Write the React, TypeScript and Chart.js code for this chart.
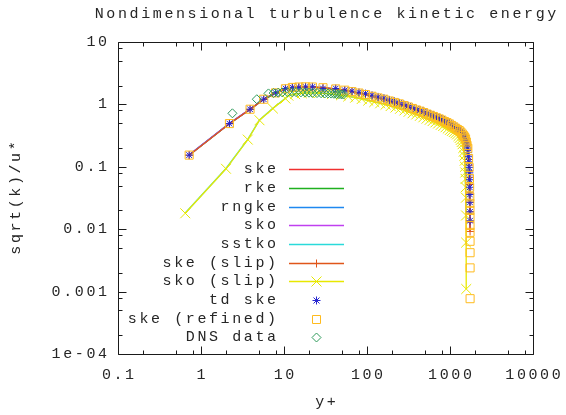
import React, { useEffect, useRef } from 'react';
import { Chart, registerables } from 'chart.js';

Chart.register(...registerables);

const W = 566;
const H = 415;
const FONT_FAMILY = '"Liberation Mono", "DejaVu Sans Mono", monospace';
const FONT = '15px ' + FONT_FAMILY;
const LETTER_SPACING = 2.6;
const TEXT_COLOR = '#262626';

const titleText = 'Nondimensional turbulence kinetic energy';
const xAxisTitle = 'y+';
const yAxisTitle = 'sqrt(k)/u*';

const xTickValues = [0.1, 1, 10, 100, 1000, 10000];
const xTickLabels = ['0.1', '1', '10', '100', '1000', '10000'];
const yTickValues = [10, 1, 0.1, 0.01, 0.001, 0.0001];
const yTickLabels = ['10', '1', '0.1', '0.01', '0.001', '1e-04'];
const minorMultipliers = [2, 5, 8];

// wall-unit mesh of the no-slip runs
const meshYPlus = [0.72, 2.2, 3.9, 5.7, 7.9, 10.4, 12.6, 15.1, 18.2, 22, 29.5, 42, 54, 66, 80, 96, 115, 136, 160, 186, 214, 245, 278, 314, 352, 393, 436, 482, 530, 580, 632, 686, 742, 800, 860, 920, 982, 1045, 1108, 1170, 1232, 1292, 1350, 1405, 1455, 1500, 1540, 1575, 1605, 1630, 1652, 1670, 1686, 1700, 1712, 1722, 1730, 1736, 1740, 1743, 1745];

const skeValues = [0.154, 0.493, 0.837, 1.21, 1.53, 1.78, 1.87, 1.90, 1.91, 1.90, 1.85, 1.77, 1.69, 1.60, 1.52, 1.44, 1.35, 1.27, 1.21, 1.135, 1.075, 1.02, 0.96, 0.91, 0.86, 0.815, 0.78, 0.74, 0.70, 0.67, 0.64, 0.61, 0.585, 0.56, 0.53, 0.51, 0.487, 0.46, 0.437, 0.415, 0.395, 0.38, 0.36, 0.336, 0.316, 0.30, 0.28, 0.25, 0.22, 0.19, 0.16, 0.135, 0.11, 0.09, 0.072, 0.056, 0.042, 0.031, 0.022, 0.015, 0.0095];
const rkeValues = [0.153, 0.49, 0.83, 1.20, 1.51, 1.75, 1.84, 1.88, 1.89, 1.88, 1.83, 1.76, 1.68, 1.60, 1.52, 1.44, 1.36, 1.28, 1.21, 1.14, 1.08, 1.02, 0.965, 0.915, 0.865, 0.82, 0.785, 0.745, 0.705, 0.675, 0.645, 0.615, 0.59, 0.565, 0.535, 0.515, 0.49, 0.465, 0.44, 0.42, 0.40, 0.385, 0.365, 0.34, 0.32, 0.302, 0.282, 0.252, 0.222, 0.192, 0.162, 0.137, 0.112, 0.092, 0.074, 0.058, 0.044, 0.032, 0.023, 0.016, 0.0098];
const rngkeValues = [0.156, 0.497, 0.845, 1.22, 1.54, 1.79, 1.88, 1.91, 1.92, 1.91, 1.86, 1.78, 1.70, 1.61, 1.53, 1.45, 1.36, 1.28, 1.22, 1.145, 1.085, 1.03, 0.97, 0.92, 0.87, 0.825, 0.79, 0.75, 0.71, 0.68, 0.65, 0.62, 0.595, 0.57, 0.54, 0.52, 0.495, 0.47, 0.445, 0.422, 0.402, 0.387, 0.366, 0.342, 0.322, 0.305, 0.284, 0.254, 0.224, 0.194, 0.164, 0.138, 0.113, 0.093, 0.075, 0.058, 0.044, 0.032, 0.023, 0.0155, 0.0098];
const skoValues = [0.155, 0.495, 0.84, 1.21, 1.52, 1.76, 1.85, 1.89, 1.90, 1.89, 1.84, 1.76, 1.68, 1.60, 1.52, 1.44, 1.35, 1.27, 1.21, 1.135, 1.075, 1.02, 0.96, 0.91, 0.86, 0.815, 0.78, 0.74, 0.70, 0.67, 0.64, 0.61, 0.585, 0.56, 0.53, 0.51, 0.487, 0.46, 0.437, 0.415, 0.395, 0.38, 0.36, 0.336, 0.316, 0.30, 0.28, 0.25, 0.22, 0.19, 0.16, 0.135, 0.11, 0.09, 0.072, 0.056, 0.042, 0.031, 0.022, 0.015, 0.0095];
const skeSlipValues = [0.153, 0.49, 0.833, 1.205, 1.525, 1.775, 1.865, 1.895, 1.905, 1.895, 1.845, 1.765, 1.685, 1.595, 1.515, 1.435, 1.345, 1.265, 1.205, 1.13, 1.07, 1.015, 0.955, 0.905, 0.855, 0.81, 0.775, 0.735, 0.695, 0.665, 0.635, 0.605, 0.58, 0.555, 0.525, 0.505, 0.482, 0.455, 0.432, 0.41, 0.39, 0.375, 0.355, 0.332, 0.312, 0.296, 0.276, 0.246, 0.216, 0.186, 0.156, 0.131, 0.106, 0.086, 0.068, 0.052, 0.038, 0.027, 0.019, 0.013, 0.0092];
const tdSkeValues = [0.154, 0.493, 0.837, 1.21, 1.53, 1.80, 1.87, 1.87, 1.91, 1.91, 1.80, 1.80, 1.69, 1.63, 1.56, 1.49, 1.40, 1.32, 1.26, 1.18, 1.12, 1.06, 1.0, 0.95, 0.895, 0.85, 0.81, 0.77, 0.73, 0.70, 0.665, 0.635, 0.61, 0.585, 0.555, 0.53, 0.505, 0.48, 0.455, 0.432, 0.412, 0.395, 0.375, 0.35, 0.33, 0.312, 0.29, 0.26, 0.23, 0.2, 0.17, 0.145, 0.12, 0.098, 0.08, 0.062, 0.047, 0.036, 0.027, 0.019, 0.0137];

// refined mesh (finer resolution near the far wall)
const refinedYPlus = [0.72, 2.2, 3.9, 5.7, 7.9, 10.4, 12.6, 15.1, 18.2, 22, 29.5, 42, 54, 66, 80, 96, 115, 136, 160, 186, 214, 245, 278, 314, 352, 393, 436, 482, 530, 580, 632, 686, 742, 800, 860, 920, 982, 1045, 1108, 1170, 1232, 1292, 1350, 1405, 1455, 1500, 1540, 1575, 1605, 1640, 1675, 1700, 1715, 1725, 1732, 1736, 1739, 1741, 1742.5, 1743.5, 1744.3, 1745, 1745.5, 1746];
const refinedValues = [0.154, 0.493, 0.837, 1.21, 1.53, 1.78, 1.87, 1.90, 1.91, 1.90, 1.85, 1.77, 1.69, 1.60, 1.52, 1.44, 1.35, 1.27, 1.21, 1.135, 1.075, 1.02, 0.96, 0.91, 0.86, 0.815, 0.78, 0.74, 0.70, 0.67, 0.64, 0.61, 0.585, 0.56, 0.53, 0.51, 0.487, 0.46, 0.437, 0.415, 0.395, 0.38, 0.36, 0.336, 0.316, 0.30, 0.28, 0.25, 0.22, 0.198, 0.136, 0.098, 0.065, 0.047, 0.033, 0.026, 0.020, 0.0155, 0.0115, 0.0089, 0.0064, 0.0042, 0.0024, 0.00077];

// slip runs (different friction velocity -> shifted y+)
const slipYPlus = [0.646, 2.0, 3.66, 5.07, 7.34, 10.4, 11.3, 13.6, 16.4, 19.8, 26.5, 37.8, 48.6, 59.4, 72, 86.4, 103.5, 122.4, 144, 167.4, 192.6, 220.5, 250, 282.6, 316.8, 353.7, 392.4, 433.8, 477, 522, 569, 617, 668, 720, 774, 828, 884, 940, 997, 1053, 1109, 1163, 1215, 1265, 1310, 1350, 1386, 1418, 1445, 1467, 1487, 1503, 1517, 1530, 1541, 1550, 1557, 1562, 1566, 1570];
const skoSlipValues = [0.018, 0.093, 0.273, 0.557, 0.86, 1.24, 1.38, 1.46, 1.51, 1.53, 1.52, 1.46, 1.40, 1.34, 1.28, 1.22, 1.15, 1.09, 1.04, 0.99, 0.94, 0.89, 0.85, 0.80, 0.76, 0.72, 0.69, 0.655, 0.62, 0.59, 0.565, 0.54, 0.515, 0.495, 0.47, 0.45, 0.43, 0.41, 0.39, 0.375, 0.36, 0.345, 0.33, 0.31, 0.29, 0.27, 0.25, 0.23, 0.2, 0.175, 0.15, 0.125, 0.10, 0.081, 0.064, 0.047, 0.032, 0.0166, 0.0061, 0.0011];
const sstkoValues = [0.0182, 0.094, 0.276, 0.562, 0.868, 1.25, 1.39, 1.47, 1.52, 1.54, 1.53, 1.47, 1.41, 1.35, 1.29, 1.23, 1.16, 1.10, 1.05, 1.0, 0.95, 0.90, 0.86, 0.81, 0.77, 0.73, 0.70, 0.665, 0.63, 0.60, 0.575, 0.55, 0.525, 0.505, 0.48, 0.46, 0.44, 0.42, 0.40, 0.385, 0.37, 0.355, 0.34, 0.32, 0.30, 0.28, 0.26, 0.24, 0.21, 0.185, 0.16, 0.135, 0.11, 0.09, 0.072, 0.055, 0.04, 0.028, 0.02, 0.015];

// DNS reference data
const dnsYPlus = [2.39, 4.7, 6.5, 7.5, 8.5, 9.5, 11, 12.5, 14, 16, 18, 20, 22, 25, 28, 31, 34, 37, 40, 43, 46, 49, 52];
const dnsValues = [0.72, 1.21, 1.5, 1.52, 1.54, 1.56, 1.57, 1.57, 1.57, 1.56, 1.55, 1.54, 1.53, 1.52, 1.51, 1.5, 1.5, 1.49, 1.48, 1.47, 1.46, 1.45, 1.44];

const pts = (xs: number[], ys: number[]) =>
  xs.map((x, i) => ({ x, y: ys[i] })).filter((p) => p.y !== undefined);

function setSpacing(ctx: any, px: number) {
  if ('letterSpacing' in ctx) ctx.letterSpacing = px + 'px';
}

function drawText(ctx: any, text: string, x: number, y: number, align: 'left' | 'right' | 'center') {
  setSpacing(ctx, LETTER_SPACING);
  ctx.textAlign = align;
  let dx = 0;
  if (align === 'right') dx = LETTER_SPACING;
  if (align === 'center') dx = LETTER_SPACING / 2;
  ctx.fillText(text, x + dx, y);
  setSpacing(ctx, 0);
}

function drawMarker(ctx: any, kind: string, x: number, y: number, color: string) {
  ctx.save();
  ctx.strokeStyle = color;
  ctx.lineWidth = 1;
  ctx.beginPath();
  if (kind === 'plus') {
    ctx.moveTo(x - 4, y); ctx.lineTo(x + 4, y);
    ctx.moveTo(x, y - 4); ctx.lineTo(x, y + 4);
  } else if (kind === 'cross') {
    ctx.moveTo(x - 5, y - 5); ctx.lineTo(x + 5, y + 5);
    ctx.moveTo(x - 5, y + 5); ctx.lineTo(x + 5, y - 5);
  } else if (kind === 'star') {
    ctx.moveTo(x - 4, y); ctx.lineTo(x + 4, y);
    ctx.moveTo(x, y - 4); ctx.lineTo(x, y + 4);
    ctx.moveTo(x - 3, y - 3); ctx.lineTo(x + 3, y + 3);
    ctx.moveTo(x - 3, y + 3); ctx.lineTo(x + 3, y - 3);
  } else if (kind === 'square') {
    ctx.rect(x - 4, y - 4, 8, 8);
  } else if (kind === 'diamond') {
    ctx.moveTo(x - 4.5, y); ctx.lineTo(x, y - 4.5); ctx.lineTo(x + 4.5, y); ctx.lineTo(x, y + 4.5);
    ctx.closePath();
  }
  ctx.stroke();
  ctx.restore();
}

const framePlugin = {
  id: 'gnuFrame',
  beforeDatasetsDraw(chart: any) {
    const { ctx, chartArea } = chart;
    const xs = chart.scales.x;
    const ys = chart.scales.y;
    const L = Math.round(chartArea.left) + 0.5;
    const R = Math.round(chartArea.right) + 0.5;
    const T = Math.round(chartArea.top) + 0.5;
    const B = Math.round(chartArea.bottom) + 0.5;
    ctx.save();
    ctx.strokeStyle = '#1a1a1a';
    ctx.lineWidth = 1;
    ctx.beginPath();
    ctx.rect(L, T, R - L, B - T);
    const MAJ = 8;
    const MIN = 4;
    xTickValues.forEach((v) => {
      const px = Math.round(xs.getPixelForValue(v)) + 0.5;
      ctx.moveTo(px, B); ctx.lineTo(px, B - MAJ);
      ctx.moveTo(px, T); ctx.lineTo(px, T + MAJ);
      minorMultipliers.forEach((m) => {
        const mv = v * m;
        if (mv < xs.max) {
          const mp = Math.round(xs.getPixelForValue(mv)) + 0.5;
          ctx.moveTo(mp, B); ctx.lineTo(mp, B - MIN);
          ctx.moveTo(mp, T); ctx.lineTo(mp, T + MIN);
        }
      });
    });
    yTickValues.forEach((v) => {
      const py = Math.round(ys.getPixelForValue(v)) + 0.5;
      ctx.moveTo(L, py); ctx.lineTo(L + MAJ, py);
      ctx.moveTo(R, py); ctx.lineTo(R - MAJ, py);
      minorMultipliers.forEach((m) => {
        const mv = v * m;
        if (mv < ys.max) {
          const mp = Math.round(ys.getPixelForValue(mv)) + 0.5;
          ctx.moveTo(L, mp); ctx.lineTo(L + MIN, mp);
          ctx.moveTo(R, mp); ctx.lineTo(R - MIN, mp);
        }
      });
    });
    ctx.stroke();
    ctx.restore();
  },
  afterDraw(chart: any) {
    const { ctx, chartArea } = chart;
    const xs = chart.scales.x;
    const ys = chart.scales.y;
    ctx.save();
    ctx.font = FONT;
    ctx.fillStyle = TEXT_COLOR;
    ctx.textBaseline = 'middle';
    // title
    drawText(ctx, titleText, (chartArea.left + chartArea.right) / 2, 14, 'center');
    // tick labels
    xTickValues.forEach((v, i) => {
      drawText(ctx, xTickLabels[i], xs.getPixelForValue(v), chartArea.bottom + 21, 'center');
    });
    yTickValues.forEach((v, i) => {
      drawText(ctx, yTickLabels[i], chartArea.left - 11, ys.getPixelForValue(v), 'right');
    });
    // axis titles
    drawText(ctx, xAxisTitle, (chartArea.left + chartArea.right) / 2, 402, 'center');
    ctx.save();
    ctx.translate(16, (chartArea.top + chartArea.bottom) / 2);
    ctx.rotate(-Math.PI / 2);
    drawText(ctx, yAxisTitle, 0, 0, 'center');
    ctx.restore();
    // legend
    const textRight = 276;
    const lineL = 289;
    const lineR = 344;
    const markX = 316.5;
    const y0 = 169.3;
    const step = 18.67;
    chart.data.datasets.forEach((ds: any, i: number) => {
      const y = y0 + i * step;
      ctx.fillStyle = TEXT_COLOR;
      drawText(ctx, ds.label, textRight, y, 'right');
      const yy = Math.round(y) + 0.5;
      if (ds.showLine !== false) {
        ctx.save();
        ctx.strokeStyle = ds.borderColor;
        ctx.lineWidth = 1.4;
        ctx.beginPath();
        ctx.moveTo(lineL, yy);
        ctx.lineTo(lineR, yy);
        ctx.stroke();
        ctx.restore();
      }
      if (ds.legendMarker) {
        drawMarker(ctx, ds.legendMarker, markX, yy, ds.pointBorderColor || ds.borderColor);
      }
    });
    ctx.restore();
  },
};

const COLORS = {
  ske: '#f03030',
  rke: '#1fb01f',
  rngke: '#1e88f0',
  sko: '#c040f0',
  sstko: '#2adada',
  skeSlip: '#e0561a',
  skoSlip: '#e8e800',
  tdSke: '#2626d0',
  refined: '#ffbb1e',
  dns: '#2e9a5a',
};

export default function App() {
  const canvasRef = useRef<HTMLCanvasElement | null>(null);

  useEffect(() => {
    if (!canvasRef.current) return;
    const lineDs = (label: string, xs: number[], ys: number[], color: string) => ({
      label,
      data: pts(xs, ys),
      borderColor: color,
      backgroundColor: color,
      borderWidth: 1.3,
      pointRadius: 0,
      showLine: true,
      tension: 0,
    });
    const datasets: any[] = [
      lineDs('ske', meshYPlus, skeValues, COLORS.ske),
      lineDs('rke', meshYPlus, rkeValues, COLORS.rke),
      lineDs('rngke', meshYPlus, rngkeValues, COLORS.rngke),
      lineDs('sko', meshYPlus, skoValues, COLORS.sko),
      lineDs('sstko', slipYPlus, sstkoValues, COLORS.sstko),
      {
        ...lineDs('ske (slip)', meshYPlus, skeSlipValues, COLORS.skeSlip),
        pointRadius: 4,
        pointStyle: 'cross',
        pointBorderColor: COLORS.skeSlip,
        pointBorderWidth: 1,
        legendMarker: 'plus',
      },
      {
        ...lineDs('sko (slip)', slipYPlus, skoSlipValues, COLORS.skoSlip),
        pointRadius: 7,
        pointStyle: 'crossRot',
        pointBorderColor: COLORS.skoSlip,
        pointBorderWidth: 1,
        legendMarker: 'cross',
      },
      {
        label: 'td ske',
        data: pts(meshYPlus, tdSkeValues),
        showLine: false,
        borderColor: COLORS.tdSke,
        pointBorderColor: COLORS.tdSke,
        pointBackgroundColor: 'transparent',
        pointStyle: 'star',
        pointRadius: 4,
        pointBorderWidth: 1,
        legendMarker: 'star',
      },
      {
        label: 'ske (refined)',
        data: pts(refinedYPlus, refinedValues),
        showLine: false,
        borderColor: COLORS.refined,
        pointBorderColor: COLORS.refined,
        pointBackgroundColor: 'transparent',
        pointStyle: 'rect',
        pointRadius: 5.7,
        pointBorderWidth: 1,
        legendMarker: 'square',
      },
      {
        label: 'DNS data',
        data: pts(dnsYPlus, dnsValues),
        showLine: false,
        borderColor: COLORS.dns,
        pointBorderColor: COLORS.dns,
        pointBackgroundColor: 'transparent',
        pointStyle: 'rectRot',
        pointRadius: 4.5,
        pointBorderWidth: 1,
        legendMarker: 'diamond',
      },
    ];
    const n = datasets.length;
    datasets.forEach((d, i) => {
      d.order = n - i;
    });

    const chart = new Chart(canvasRef.current, {
      type: 'line',
      data: { datasets },
      options: {
        responsive: false,
        animation: false,
        devicePixelRatio: 1,
        layout: { padding: { left: 118, right: 33, top: 42, bottom: 61 } },
        plugins: {
          legend: { display: false },
          title: { display: false },
          tooltip: { enabled: false },
        },
        scales: {
          x: { type: 'logarithmic', min: 0.1, max: 10000, display: false },
          y: { type: 'logarithmic', min: 0.0001, max: 10, display: false },
        },
      },
      plugins: [framePlugin],
    } as any);
    return () => chart.destroy();
  }, []);

  return (
    <div style={{ position: 'fixed', left: 0, top: 0, width: W, height: H, background: '#fff' }}>
      <canvas ref={canvasRef} width={W} height={H} style={{ display: 'block', width: W, height: H }} />
    </div>
  );
}
